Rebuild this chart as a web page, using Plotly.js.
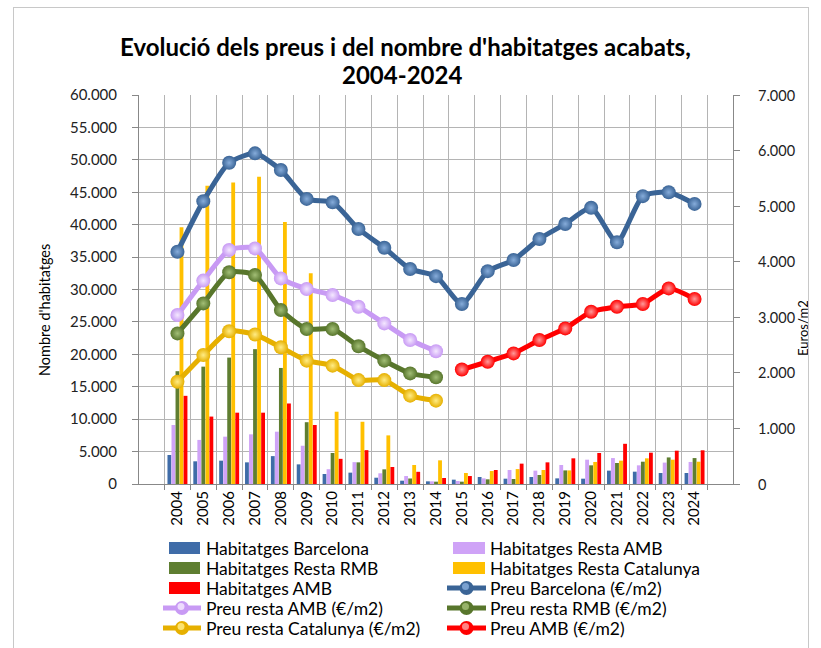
<!DOCTYPE html>
<html>
<head>
<meta charset="utf-8">
<script src="https://cdn.plot.ly/plotly-3.0.1.min.js"></script>
<style>
  html, body { margin: 0; padding: 0; background: #fff; }
  #chart { position: absolute; left: 0; top: 0; width: 821px; height: 648px; }
  #frame { position: absolute; left: 13px; top: 7px; width: 794px; height: 660px; border: 1px solid #c8c8c8; pointer-events: none; }
</style>
</head>
<body>
<div id="chart"></div>
<div id="frame"></div>
<script>
const years = ['2004','2005','2006','2007','2008','2009','2010','2011','2012','2013','2014','2015','2016','2017','2018','2019','2020','2021','2022','2023','2024'];

const habBarcelona = [4470, 3500, 3600, 3340, 4300, 3030, 1540, 1750, 970, 510, 410, 670, 1080, 820, 1080, 870, 820, 2060, 1900, 1700, 1700];
const habRestaAMB  = [9100, 6800, 7300, 7660, 8070, 5900, 2280, 3370, 1650, 1230, 410, 460, 870, 2160, 2060, 2930, 3750, 4000, 2880, 3300, 3400];
const habRestaRMB  = [17400, 18100, 19500, 20800, 17900, 9530, 4780, 3340, 2260, 850, 360, 360, 720, 770, 1390, 2100, 2880, 3240, 3440, 4100, 4000];
const habRestaCat  = [39600, 46000, 46500, 47400, 40400, 32500, 11150, 9600, 7500, 2930, 3650, 1700, 2000, 2300, 2160, 2100, 3400, 3600, 3960, 3750, 3440];
const habAMB       = [13600, 10400, 11000, 11000, 12420, 9100, 3880, 5220, 2620, 1880, 930, 1230, 2160, 3140, 3340, 3960, 4780, 6200, 4830, 5140, 5200];

const preuBarcelona = [4180, 5090, 5780, 5950, 5650, 5130, 5070, 4590, 4250, 3870, 3740, 3240, 3830, 4030, 4410, 4680, 4970, 4350, 5180, 5250, 5040];
const preuRestaAMB  = [3040, 3660, 4210, 4240, 3700, 3510, 3400, 3190, 2890, 2590, 2390, null, null, null, null, null, null, null, null, null, null];
const preuRestaRMB  = [2710, 3250, 3810, 3760, 3130, 2790, 2790, 2480, 2220, 1990, 1920, null, null, null, null, null, null, null, null, null, null];
const preuRestaCat  = [1840, 2320, 2750, 2690, 2460, 2220, 2130, 1870, 1870, 1590, 1500, null, null, null, null, null, null, null, null, null, null];
const preuAMB       = [null, null, null, null, null, null, null, null, null, null, null, 2060, 2200, 2350, 2590, 2800, 3100, 3190, 3240, 3520, 3330];

// right axis tick values / labels
const y2TickVals = [0, 1000, 2000, 3000, 4000, 5000, 6000, 7000];
const y2TickText = ['0', '1.000', '2.000', '3.000', '4.000', '5.000', '6.000', '7.000'];

const titleLines = ["Evolució dels preus i del nombre d'habitatges acabats,", "2004-2024"];
const yTitle = "Nombre d'habitatges";
const y2Title = "Euros/m2";

const FONT = 'Lato, "Open Sans", sans-serif';

const S = {
  habBcn:  { name: 'Habitatges Barcelona',        color: '#3F6CA8' },
  habRAMB: { name: 'Habitatges Resta AMB',        color: '#CFA3F7' },
  habRMB:  { name: 'Habitatges Resta RMB',        color: '#5F7E31' },
  habCat:  { name: 'Habitatges Resta Catalunya',  color: '#FFC000' },
  habAMB:  { name: 'Habitatges AMB',              color: '#FF0000' },
  prBcn:   { name: 'Preu Barcelona (€/m2)',       color: '#3A6496', light: '#86ACDA' },
  prRAMB:  { name: 'Preu resta AMB (€/m2)',       color: '#C89AF4', light: '#F4E8FF' },
  prRMB:   { name: 'Preu resta RMB (€/m2)',       color: '#58762C', light: '#A2BE76' },
  prCat:   { name: 'Preu resta Catalunya (€/m2)', color: '#E6B000', light: '#FFEC85' },
  prAMB:   { name: 'Preu AMB (€/m2)',             color: '#FF0000', light: '#FF9A9A' }
};

function bar(s, y) {
  return { type: 'bar', name: s.name, x: years, y: y, yaxis: 'y',
           marker: { color: s.color, line: { width: 0 } }, showlegend: false };
}
function line(s, y) {
  return { type: 'scatter', mode: 'lines+markers', name: s.name, x: years, y: y, yaxis: 'y2',
           connectgaps: false, showlegend: false,
           line: { color: s.color, width: 5, shape: 'spline', smoothing: 0.6 },
           marker: { color: s.color, size: 14, line: { width: 0 },
                     gradient: { type: 'radial', color: s.light } } };
}

const data = [
  bar(S.habBcn, habBarcelona),
  bar(S.habRAMB, habRestaAMB),
  bar(S.habRMB, habRestaRMB),
  bar(S.habCat, habRestaCat),
  bar(S.habAMB, habAMB),
  line(S.prBcn, preuBarcelona),
  line(S.prRAMB, preuRestaAMB),
  line(S.prRMB, preuRestaRMB),
  line(S.prCat, preuRestaCat),
  line(S.prAMB, preuAMB)
];

// pixel -> paper helpers (plot area: x 139..733, y 95..484)
const PL = 139, PW = 594, PB = 484, PH = 389;
const px = v => (v - PL) / PW;
const py = v => (PB - v) / PH;

// manual legend (two columns)
const legendCols = [
  [ ['bar', S.habBcn], ['bar', S.habRMB], ['bar', S.habAMB], ['line', S.prRAMB], ['line', S.prCat] ],
  [ ['bar', S.habRAMB], ['bar', S.habCat], ['line', S.prBcn], ['line', S.prRMB], ['line', S.prAMB] ]
];
const colSym = [ { l: 163, r: 201, bl: 169 }, { l: 447, r: 486, bl: 453 } ];
const colText = [ 204, 488 ];
const rowY = [548, 568, 588, 608, 628];

const shapes = [];
const annotations = [];
legendCols.forEach((col, ci) => {
  col.forEach((item, ri) => {
    const [kind, s] = item;
    const yc = rowY[ri];
    const sym = colSym[ci];
    if (kind === 'bar') {
      shapes.push({ type: 'rect', xref: 'paper', yref: 'paper',
        x0: px(sym.bl), x1: px(sym.r - 1), y0: py(yc + 6), y1: py(yc - 6),
        fillcolor: s.color, line: { width: 0 } });
    } else {
      const cx = (sym.l + sym.r) / 2;
      shapes.push({ type: 'line', xref: 'paper', yref: 'paper',
        x0: px(sym.l), x1: px(sym.r), y0: py(yc), y1: py(yc),
        line: { color: s.color, width: 5 } });
      shapes.push({ type: 'circle', xref: 'paper', yref: 'paper',
        x0: px(cx - 7), x1: px(cx + 7), y0: py(yc + 7), y1: py(yc - 7),
        fillcolor: s.color, line: { width: 0 } });
      shapes.push({ type: 'circle', xref: 'paper', yref: 'paper',
        x0: px(cx - 4.5), x1: px(cx + 2.5), y0: py(yc + 2), y1: py(yc - 5),
        fillcolor: s.light, opacity: 0.85, line: { width: 0 } });
    }
    annotations.push({ xref: 'paper', yref: 'paper', x: px(colText[ci]), y: py(yc),
      xanchor: 'left', yanchor: 'middle', showarrow: false, text: s.name,
      font: { family: FONT, size: 17.5, color: '#000' } });
  });
});

// right axis tick labels placed on the y2 scale
y2TickVals.forEach((v, i) => {
  annotations.push({ xref: 'paper', yref: 'y2', x: px(756), y: v, xanchor: 'left', yanchor: 'middle',
    showarrow: false, text: y2TickText[i], font: { family: FONT, size: 14.5, color: '#222' } });
});

// titles
annotations.push({ xref: 'paper', yref: 'paper', x: px(405), y: py(47), xanchor: 'center', yanchor: 'middle',
  showarrow: false, text: '<b>' + titleLines[0] + '</b>', font: { family: FONT, size: 24, color: '#000' } });
annotations.push({ xref: 'paper', yref: 'paper', x: px(402), y: py(74), xanchor: 'center', yanchor: 'middle',
  showarrow: false, text: '<b>' + titleLines[1] + '</b>', font: { family: FONT, size: 24, color: '#000' } });
annotations.push({ xref: 'paper', yref: 'paper', x: px(44), y: py(310), xanchor: 'center', yanchor: 'middle',
  showarrow: false, textangle: -90, text: yTitle, font: { family: FONT, size: 14.5, color: '#000' } });
annotations.push({ xref: 'paper', yref: 'paper', x: px(803), y: py(328), xanchor: 'center', yanchor: 'middle',
  showarrow: false, textangle: -90, text: y2Title, font: { family: FONT, size: 13, color: '#000' } });

const layout = {
  width: 821, height: 648,
  margin: { l: 139, r: 88, t: 95, b: 164, autoexpand: false },
  paper_bgcolor: '#fff', plot_bgcolor: '#fff',
  separators: ',.',
  font: { family: FONT, color: '#000' },
  showlegend: false,
  barmode: 'group', bargap: 0.22, bargroupgap: 0.05,
  xaxis: { type: 'category', tickson: 'boundaries', ticks: 'outside', ticklen: 5, tickcolor: '#888',
           tickangle: -90, tickfont: { family: FONT, size: 15, color: '#000' },
           showgrid: true, gridcolor: '#b4b4b4', gridwidth: 1, automargin: false,
           showline: true, linecolor: '#888', linewidth: 1 },
  yaxis: { range: [0, 60000], dtick: 5000, tickformat: ',d', ticks: 'outside', ticklen: 6, tickcolor: '#888',
           tickfont: { family: FONT, size: 15, color: '#222' }, ticklabelstandoff: 12,
           showgrid: true, gridcolor: '#b4b4b4', gridwidth: 1, zeroline: false, automargin: false,
           showline: true, linecolor: '#888', linewidth: 1 },
  yaxis2: { overlaying: 'y', side: 'right', range: [0, 7000], tickmode: 'array', tickvals: y2TickVals,
            showticklabels: false, ticks: 'outside', ticklen: 6, tickcolor: '#888', automargin: false,
            showgrid: false, zeroline: false, showline: true, linecolor: '#888', linewidth: 1 },
  shapes: shapes,
  annotations: annotations
};

Plotly.newPlot('chart', data, layout, { displayModeBar: false, staticPlot: true });
</script>
</body>
</html>
